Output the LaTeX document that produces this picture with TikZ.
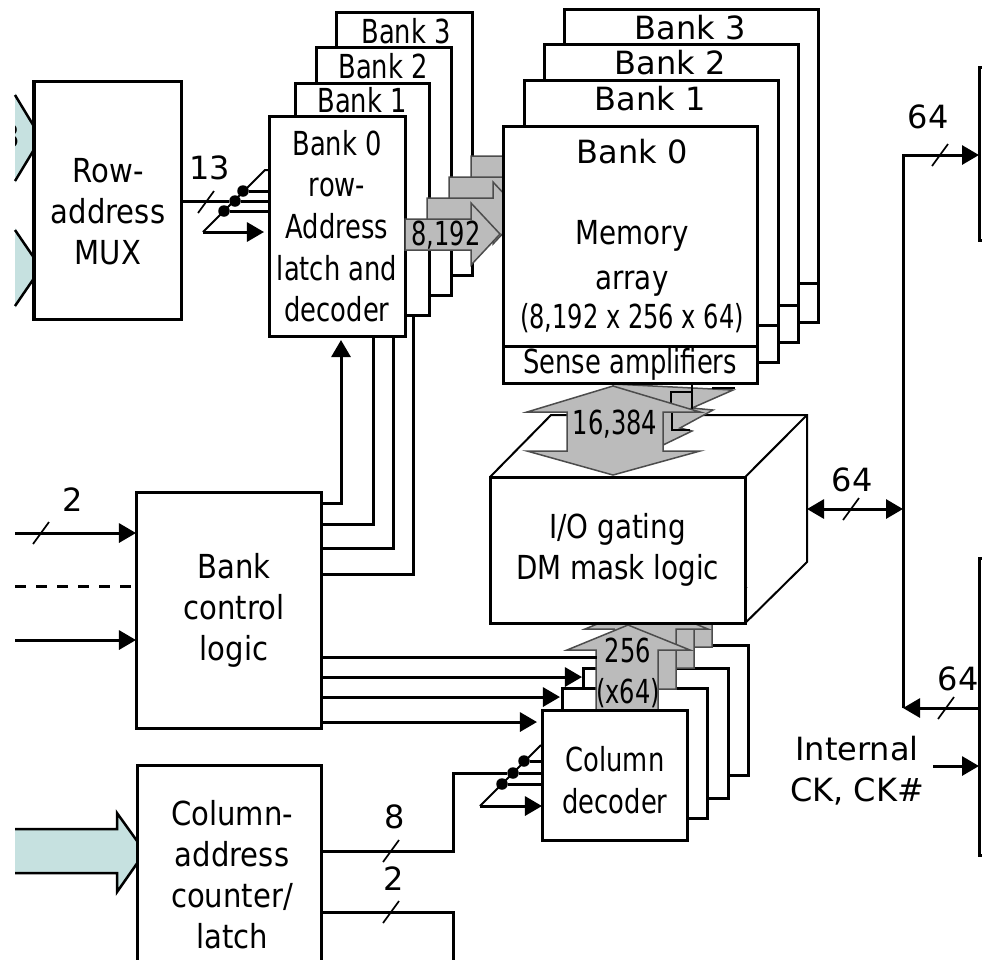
\documentclass[tikz,border=0pt]{standalone}
\usepackage{fontspec}
\setmainfont{DejaVu Sans}
\newfontfamily\blockfont[FakeStretch=0.88]{DejaVu Sans}
\newfontfamily\condfont[FakeStretch=0.84]{DejaVu Sans}
\newfontfamily\narrowfont[FakeStretch=0.78]{DejaVu Sans}
\newfontfamily\tightfont[FakeStretch=0.73]{DejaVu Sans}
\usetikzlibrary{arrows.meta,calc}
\definecolor{busteal}{HTML}{C6E1E0}
\definecolor{busgray}{HTML}{BBBBBB}
\tikzset{
  blk/.style={draw=black,fill=white,line width=0.03cm,inner sep=0pt,outer sep=0pt,anchor=north west,align=center},
  wire/.style={draw=black,line width=0.03cm},
  sig/.style={wire,-{Triangle[length=0.17cm,width=0.19cm]}},
  thinw/.style={draw=black,line width=0.02cm},
  slashmark/.style={draw=black,line width=0.017cm},
  dotmark/.style={circle,fill=black,inner sep=0pt,minimum size=0.115cm},
  busgr/.style={fill=busgray,draw=black!70,line width=0.015cm},
  bustl/.style={fill=busteal},
  block/.style={font=\blockfont\fontsize{9.4}{11.67}\selectfont,align=center},
  cond/.style={font=\condfont\fontsize{9.4}{11.67}\selectfont,align=center},
  narrow/.style={font=\narrowfont\fontsize{9.4}{11.85}\selectfont,align=center},
  tight/.style={font=\tightfont\fontsize{9.4}{11.67}\selectfont,align=center},
  wide/.style={font=\fontsize{9.1}{11.67}\selectfont,align=center}
}
\begin{document}
\begin{tikzpicture}[x=0.01cm,y=-0.01cm]
\clip (0,0) rectangle (982,959);
% Input buses cut off at the left
\fill[bustl] (15,93) -- (41,138) -- (15,183) -- cycle;
\fill[bustl] (15,228) -- (41,268) -- (15,308) -- cycle;
\fill[bustl] (15,829) -- (117,829) -- (117,813) -- (145,852) -- (117,892) -- (117,873) -- (15,873) -- cycle;
\draw[wire,line width=0.025cm] (15,95) -- (41,138) -- (15,181);
\draw[wire,line width=0.025cm] (15,230) -- (41,268) -- (15,306);
\draw[wire,line width=0.025cm] (15,829) -- (117,829) -- (117,813) -- (145,852) -- (117,892) -- (117,873) -- (15,873);
\begin{scope}
  \clip (15,100) rectangle (30,170);
  \node[font=\bfseries\fontsize{9.4}{11}\selectfont] (cutoff) at (9,136) {3};
\end{scope}
% Row address mux, bank control and column counter
\node[blk,minimum width=1.47cm,minimum height=2.38cm] (rowmux) at (34,81) {};
\node[block] (rowtxt) at (108,212) {Row-\\address\\MUX};
\node[blk,minimum width=1.84cm,minimum height=2.2cm] (colctr) at (137,765) {};
\node[block] (ctrtxt) at (232,875) {Column-\\address\\counter/\\latch};
\node[blk,minimum width=1.85cm,minimum height=2.36cm] (bankctl) at (136,492) {};
\node[block] (ctltxt) at (234,610) {Bank\\control\\logic};
% Row latch stack, back to front, each with its bus
\foreach \i/\lft/\tp/\wid/\hgt/\tx/\ty in {3/336/12/136/263/406/31,2/316/47/135/248/383/66,1/295/83/134/232/362/100} {
  \node[blk,minimum width=\wid*0.01cm,minimum height=\hgt*0.01cm] (rowb\i) at (\lft,\tp) {};
  \node[narrow] (rowt\i) at (\tx,\ty) {Bank \i};
  \begin{scope}[shift={(22*\i,-21*\i)}]
    \path[busgr] (405,219) -- (471,219) -- (471,203) -- (500,234) -- (471,265) -- (471,250) -- (405,250) -- cycle;
  \end{scope}
}
\node[blk,narrow,minimum width=1.36cm,minimum height=2.2cm] (rowb0) at (269,116) {Bank 0\\row-\\Address\\latch and\\decoder};
\path[busgr] (405,219) -- (471,219) -- (471,203) -- (500,234) -- (471,265) -- (471,250) -- (405,250) -- cycle;
\node[tight] (rowbus) at (446,235) {8,192};
% Column decoder stack with its buses
\foreach \i/\lft/\tp in {3/603/645,2/583/668,1/562/688} {
  \node[blk,minimum width=1.45cm,minimum height=1.3cm] (colb\i) at (\lft,\tp) {};
  \begin{scope}[shift={(18*\i,-21*\i)}]
    \path[busgr] (628,625) -- (690,650) -- (658,650) -- (658,710) -- (596,710) -- (596,650) -- (567,650) -- cycle;
  \end{scope}
}
\path[busgr] (628,625) -- (690,650) -- (658,650) -- (658,710) -- (596,710) -- (596,650) -- (567,650) -- cycle;
\node[tight] (colbus) at (628,673) {256\\(x64)};
\node[blk,minimum width=1.45cm,minimum height=1.3cm] (colb0) at (542,710) {};
\node[narrow] (coltxt) at (615,780) {Column\\decoder};
% I/O gating block
\coordinate (cubetl) at (551,415);
\coordinate (cubetr) at (807,415);
\coordinate (cubebr) at (807,562);
\node[blk,cond,minimum width=2.55cm,minimum height=1.46cm] (iogate) at (490,477) {I/O gating\\DM mask logic};
\draw[thinw] (iogate.north west) -- (cubetl) -- (cubetr) -- (cubebr) -- (iogate.south east);
\draw[thinw] (iogate.north east) -- (cubetr);
% Buses between sense amplifiers and I/O gating
\path[busgr] (613,384) -- (733,390) -- (692,408) -- (713,410) -- (680,428) -- (692,431) -- (663,445) -- (613,445) -- cycle;
\draw[thinw,line width=0.012cm] (692,383) -- (692,409) (671,409) -- (671,392) -- (692,392) (672,412) -- (672,430) -- (690,430) (712,388) -- (735,388);
\path[busgr] (613,386) -- (700,412) -- (663,412) -- (663,451) -- (700,451) -- (613,475) -- (527,451) -- (567,451) -- (567,412) -- (527,412) -- cycle;
\node[tight] (membus) at (615,424) {16,384};
% Memory array stack
\foreach \i/\lft/\tp/\sep/\btm in {3/564/9/283/322,2/544/44/305/342,1/524/80/325/362} {
  \node[blk,minimum width=2.54cm,minimum height=(\sep-\tp)*0.01cm] (memb\i) at (\lft,\tp) {};
  \node[blk,minimum width=2.54cm,minimum height=(\btm-\sep)*0.01cm] (sens\i) at (\lft,\sep) {};
  \node[wide] (memt\i) at (\lft+126,\tp+19) {Bank \i};
}
\node[blk,minimum width=2.54cm,minimum height=2.2cm] (memb0) at (503,126) {};
\node[blk,narrow,minimum width=2.54cm,minimum height=0.37cm] (sens0) at (503,346) {Sense amplifiers};
\node[wide] (memt0) at (632,152) {Bank 0};
\node[cond] (memtxt) at (632,258) {Memory\\[1.1pt]array};
\node[tight] (memdim) at (632,318) {(8,192 x 256 x 64)};
% Right hand blocks cut off by the frame
\node[blk,minimum width=0.6cm,minimum height=1.73cm] (rtop) at (979,67) {};
\node[blk,minimum width=0.6cm,minimum height=2.97cm] (rbot) at (979,558) {};
% Row address wires
\coordinate (rowsw) at (203,232);
\coordinate (rowtop) at (265,170);
\coordinate (rowtip) at (264,232);
\node[dotmark] (rowd1) at (243,191) {};
\node[dotmark] (rowd2) at (235,201) {};
\node[dotmark] (rowd3) at (224,211) {};
\draw[thinw] (rowsw) -- (rowtop) -- (rowb0.west |- rowtop);
\draw[wire] (rowmux.east |- rowd2) -- (rowd2) -- (rowb0.west |- rowd2);
\draw[wire] (rowd1) -- (rowb0.west |- rowd1);
\draw[wire] (rowd3) -- (rowb0.west |- rowd3);
\draw[sig] (rowsw) -- (rowtip);
% Bank control outputs to the row stack
\coordinate (ctlr0) at (341,503);
\coordinate (ctlr1) at (373,524);
\coordinate (ctlr2) at (393,548);
\coordinate (ctlr3) at (413,574);
\draw[sig] (bankctl.east |- ctlr0) -- (ctlr0) -- (341,340);
\draw[wire] (bankctl.east |- ctlr1) -- (ctlr1) -- (ctlr1 |- rowb0.south);
\draw[wire] (bankctl.east |- ctlr2) -- (ctlr2) -- (ctlr2 |- rowb0.south);
\draw[wire] (bankctl.east |- ctlr3) -- (ctlr3) -- (ctlr3 |- rowb1.south);
% Bank control outputs to the column stack
\coordinate (ctlc3) at (597,657);
\coordinate (ctlc2) at (582,677);
\coordinate (ctlc1) at (560,697);
\coordinate (ctlc0) at (537,722);
\draw[wire] (bankctl.east |- ctlc3) -- (ctlc3);
\foreach \i in {2,1,0} \draw[sig] (bankctl.east |- ctlc\i) -- (ctlc\i);
% Bank control inputs
\coordinate (ctlin1) at (15,533);
\coordinate (ctlin2) at (15,586);
\coordinate (ctlin3) at (15,640);
\draw[sig] (ctlin1) -- (bankctl.west |- ctlin1);
\draw[wire,dashed,dash pattern=on 0.11cm off 0.1cm] (ctlin2) -- (bankctl.west |- ctlin2);
\draw[sig] (ctlin3) -- (bankctl.west |- ctlin3);
% Column address wires
\coordinate (colsw) at (480,806);
\coordinate (coltop) at (541,745);
\coordinate (colup) at (453,773);
\coordinate (coldn) at (453,912);
\coordinate (colend) at (453,965);
\node[dotmark] (cold1) at (524,761) {};
\node[dotmark] (cold2) at (513,773) {};
\node[dotmark] (cold3) at (502,784) {};
\draw[thinw] (colsw) -- (coltop);
\draw[wire] (colctr.east |- 0,851) -- (colup |- 0,851) -- (colup) -- (cold2) -- (colb0.west |- cold2);
\draw[wire] (cold1) -- (colb0.west |- cold1);
\draw[wire] (cold3) -- (colb0.west |- cold3);
\draw[sig] (colsw) -- (colb0.west |- colsw);
\draw[wire] (colctr.east |- coldn) -- (coldn) -- (colend);
% Data lines on the right
\coordinate (bustop) at (903,155);
\coordinate (busmid) at (903,509);
\coordinate (busbot) at (903,708);
\coordinate (clkin) at (933,766);
\draw[sig] (busbot) -- (bustop) -- (rtop.west |- bustop);
\draw[wire,{Triangle[length=0.17cm,width=0.19cm]}-{Triangle[length=0.17cm,width=0.19cm]}] (cubetr |- busmid) -- (busmid);
\draw[sig] (rbot.west |- busbot) -- (busbot);
\draw[sig] (clkin) -- (rbot.west |- clkin);
\node[wide] (clktxt) at (857,771) {Internal\\CK, CK\#};
% Bus width marks and their numbers
\foreach \x/\y in {206/202,391/851,391/912,41/533,851/509,940/155,946/708}
  \draw[slashmark] (\x-8,\y+11) -- (\x+8,\y-11);
\foreach \x/\y/\w in {210/168/13,395/817/8,394/879/2,73/500/2,852/480/64,928/117/64,958/679/64}
  \node[wide] (wd\x) at (\x,\y) {\w};
\end{tikzpicture}
\end{document}
